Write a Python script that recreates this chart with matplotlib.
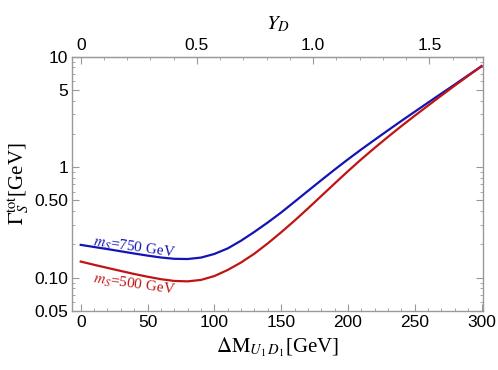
import numpy as np
import matplotlib
matplotlib.use('Agg')
import matplotlib.pyplot as plt
from matplotlib.ticker import FixedLocator, MultipleLocator, FixedFormatter

plt.rcParams['mathtext.fontset'] = 'stix'
plt.rcParams['font.family'] = 'Liberation Sans'

# data
dm = [0, 10, 20, 30, 40, 50, 60, 70, 80, 90, 100, 110, 120, 130, 140, 150,
      160, 170, 180, 190, 200, 210, 220, 230, 240, 250, 260, 270, 280, 290, 300]
gamma_750 = [0.1982, 0.1897, 0.1816, 0.1734, 0.1656, 0.1585, 0.1524, 0.1483,
             0.1476, 0.1521, 0.1641, 0.1841, 0.2163, 0.2600, 0.3162, 0.3890,
             0.4864, 0.6095, 0.7621, 0.9506, 1.178, 1.449, 1.770, 2.158,
             2.624, 3.177, 3.846, 4.645, 5.610, 6.792, 8.204]
gamma_500 = [0.1400, 0.1309, 0.1227, 0.1151, 0.1081, 0.1021, 0.0970, 0.0935,
             0.0927, 0.0955, 0.1035, 0.1175, 0.1374, 0.1652, 0.2046, 0.2576,
             0.3281, 0.4227, 0.5483, 0.7112, 0.9204, 1.180, 1.496, 1.884,
             2.355, 2.924, 3.614, 4.457, 5.483, 6.714, 8.204]
ytick_vals = [0.05, 0.1, 0.5, 1, 5, 10]
ytick_labels = ['0.05', '0.10', '0.50', '1', '5', '10']
yd_per_gev = 1 / 174.0

grey = '#999999'

fig = plt.figure(figsize=(4.98, 3.70), dpi=100)
ax = fig.add_axes([0.1452, 0.1595, 0.8253, 0.6873])

ax.plot(dm, gamma_750, color='#1414b4', lw=1.6)
ax.plot(dm, gamma_500, color='#c01414', lw=1.6)

ax.set_yscale('log')
ax.set_xlim(-6.3, 301.3)
ax.set_ylim(0.05, 10)

ax.yaxis.set_major_locator(FixedLocator(ytick_vals))
ax.yaxis.set_major_formatter(FixedFormatter(ytick_labels))
minors = [v * d for d in [0.01, 0.1, 1] for v in range(2, 10)]
minors = [m for m in minors if 0.05 <= m <= 10 and m not in ytick_vals]
ax.yaxis.set_minor_locator(FixedLocator(minors))
ax.xaxis.set_major_locator(MultipleLocator(50))
ax.xaxis.set_minor_locator(MultipleLocator(10))

for s in ax.spines.values():
    s.set_color(grey)
    s.set_linewidth(1.0)

ax.tick_params(which='both', direction='in', color=grey, labelsize=12.5,
               top=False, right=True, pad=3)
ax.tick_params(which='major', length=5, width=0.8)
ax.tick_params(which='minor', length=2.5, width=0.6)

sec = ax.secondary_xaxis('top', functions=(lambda x: x * yd_per_gev,
                                           lambda y: y / yd_per_gev))
sec.xaxis.set_major_locator(FixedLocator([0, 0.5, 1.0, 1.5]))
sec.xaxis.set_major_formatter(FixedFormatter(['0', '0.5', '1.0', '1.5']))
sec.xaxis.set_minor_locator(MultipleLocator(0.1))
sec.spines['top'].set_color(grey)
sec.tick_params(which='both', direction='in', color=grey, labelsize=12.5, pad=3)
sec.tick_params(which='major', length=5, width=0.8)
sec.tick_params(which='minor', length=2.5, width=0.6)
sec.set_xlabel(r'$Y_D$', fontsize=15, labelpad=6)

ax.set_xlabel(r'$\Delta\mathrm{M}_{U_1\,D_1}$[GeV]', family='Liberation Serif',
              fontsize=15, labelpad=4)
ax.set_ylabel(r'$\Gamma_S^{\mathrm{tot}}$[GeV]', family='Liberation Serif',
              fontsize=15, labelpad=2)

ax.text(40, 0.188, r'$m_S$=750 GeV', color='#1414b4', family='Liberation Serif',
        fontsize=11, rotation=-8, ha='center', va='center')
ax.text(40, 0.087, r'$m_S$=500 GeV', color='#c01414', family='Liberation Serif',
        fontsize=11, rotation=-8, ha='center', va='center')

fig.savefig('out.png', dpi=100)
